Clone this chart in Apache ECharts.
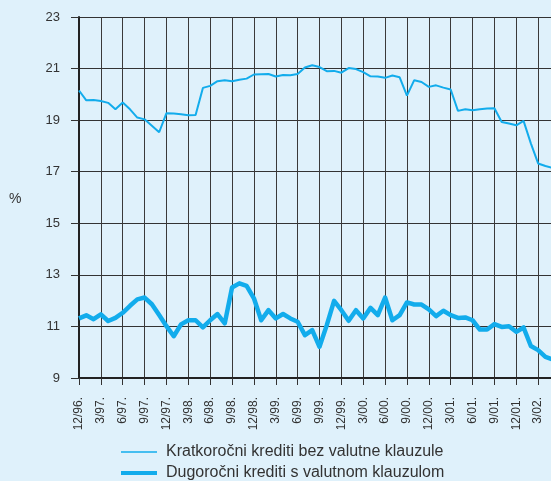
<!DOCTYPE html>
<html>
<head>
<meta charset="utf-8">
<script src="https://cdn.jsdelivr.net/npm/echarts@6/dist/echarts.min.js"></script>
<style>
  html, body { margin: 0; padding: 0; background: #dff1fb; }
  #chart { width: 551px; height: 481px; }
</style>
</head>
<body>
<div id="chart"></div>
<script>
// monthly, 12/96 .. 6/02 (labels every quarter)
const months = [
  '12/96.',
  '1/97.', '2/97.', '3/97.', '4/97.', '5/97.', '6/97.', '7/97.', '8/97.', '9/97.', '10/97.', '11/97.', '12/97.',
  '1/98.', '2/98.', '3/98.', '4/98.', '5/98.', '6/98.', '7/98.', '8/98.', '9/98.', '10/98.', '11/98.', '12/98.',
  '1/99.', '2/99.', '3/99.', '4/99.', '5/99.', '6/99.', '7/99.', '8/99.', '9/99.', '10/99.', '11/99.', '12/99.',
  '1/00.', '2/00.', '3/00.', '4/00.', '5/00.', '6/00.', '7/00.', '8/00.', '9/00.', '10/00.', '11/00.', '12/00.',
  '1/01.', '2/01.', '3/01.', '4/01.', '5/01.', '6/01.', '7/01.', '8/01.', '9/01.', '10/01.', '11/01.', '12/01.',
  '1/02.', '2/02.', '3/02.', '4/02.', '5/02.', '6/02.'
]

const shortTerm = [
  20.15, 19.77, 19.78, 19.74, 19.67, 19.42, 19.68, 19.42, 19.10, 19.03, 18.78, 18.53,
  19.27, 19.26, 19.23, 19.19, 19.20, 20.25, 20.33, 20.51, 20.55, 20.51, 20.57, 20.61,
  20.77, 20.78, 20.79, 20.69, 20.75, 20.74, 20.79, 21.04, 21.13, 21.06, 20.90, 20.91,
  20.84, 21.02, 20.98, 20.86, 20.70, 20.69, 20.64, 20.73, 20.66, 19.95, 20.55, 20.48,
  20.29, 20.35, 20.26, 20.19, 19.36, 19.42, 19.38, 19.42, 19.45, 19.46, 18.93, 18.87,
  18.80, 18.97, 18.10, 17.32, 17.22, 17.15
]

const longTerm = [
  11.31, 11.43, 11.28, 11.47, 11.21, 11.33, 11.53, 11.80, 12.05, 12.12, 11.86, 11.44,
  11.01, 10.62, 11.08, 11.24, 11.24, 10.96, 11.24, 11.48, 11.12, 12.51, 12.67, 12.57,
  12.09, 11.24, 11.63, 11.31, 11.48, 11.31, 11.18, 10.66, 10.86, 10.21, 11.05, 11.99,
  11.63, 11.22, 11.63, 11.31, 11.72, 11.44, 12.12, 11.24, 11.44, 11.93, 11.85, 11.85,
  11.66, 11.40, 11.61, 11.44, 11.33, 11.35, 11.24, 10.88, 10.88, 11.09, 10.98, 11.01,
  10.79, 10.96, 10.24, 10.08, 9.82, 9.72
]

const seriesNames = ['Kratkoročni krediti bez valutne klauzule', 'Dugoročni krediti s valutnom klauzulom']

const font = '"Liberation Sans", Arial, Helvetica, sans-serif'
const lineColor = '#12acec'
const ink = '#333333'

const chart = echarts.init(document.getElementById('chart'))

// one legend per series so each icon gets its own line thickness
function legendFor(name, top, thickness) {
  return {
    data: [name],
    left: 116,
    top: top,
    icon: 'rect',
    itemWidth: 36,
    itemHeight: thickness,
    selectedMode: false,
    textStyle: { color: ink, fontSize: 16, fontFamily: font, padding: [0, 0, 0, 4] },
  }
}

chart.setOption({
  backgroundColor: '#dff1fb',
  animation: false,
  textStyle: { fontFamily: font },
  grid: {
    left: 79,
    top: 17,
    bottom: 103,
    right: -9,
    outerBoundsMode: 'none',
  },
  xAxis: {
    type: 'category',
    data: months,
    boundaryGap: false,
    axisLine: { lineStyle: { color: '#222', width: 2 } },
    axisTick: { interval: 2, length: 7, lineStyle: { color: ink, width: 1 } },
    axisLabel: {
      interval: 2,
      rotate: 90,
      margin: 19,
      color: ink,
      fontSize: 12,
      fontFamily: font,
    },
    splitLine: { show: true, interval: 2, lineStyle: { color: '#3a3a3a', width: 1 } },
  },
  yAxis: {
    type: 'value',
    min: 9,
    max: 23,
    interval: 2,
    axisLine: { show: true, lineStyle: { color: '#222', width: 2 } },
    axisTick: { show: true, length: 8, lineStyle: { color: ink, width: 1 } },
    axisLabel: { margin: 19, color: ink, fontSize: 13, fontFamily: font },
    splitLine: { lineStyle: { color: '#333', width: 1 } },
  },
  legend: [
    legendFor(seriesNames[0], 439, 1.5),
    legendFor(seriesNames[1], 460, 4),
  ],
  graphic: [{
    type: 'text',
    left: 9,
    top: 192,
    style: { text: '%', fontSize: 14, fill: ink, fontFamily: font },
  }],
  series: [
    {
      name: seriesNames[0],
      type: 'line',
      data: shortTerm,
      symbol: 'none',
      lineStyle: { color: lineColor, width: 2 },
      itemStyle: { color: lineColor },
    },
    {
      name: seriesNames[1],
      type: 'line',
      data: longTerm,
      symbol: 'none',
      lineStyle: { color: lineColor, width: 4.5, join: 'round' },
      itemStyle: { color: lineColor },
    },
  ],
})
</script>
</body>
</html>
